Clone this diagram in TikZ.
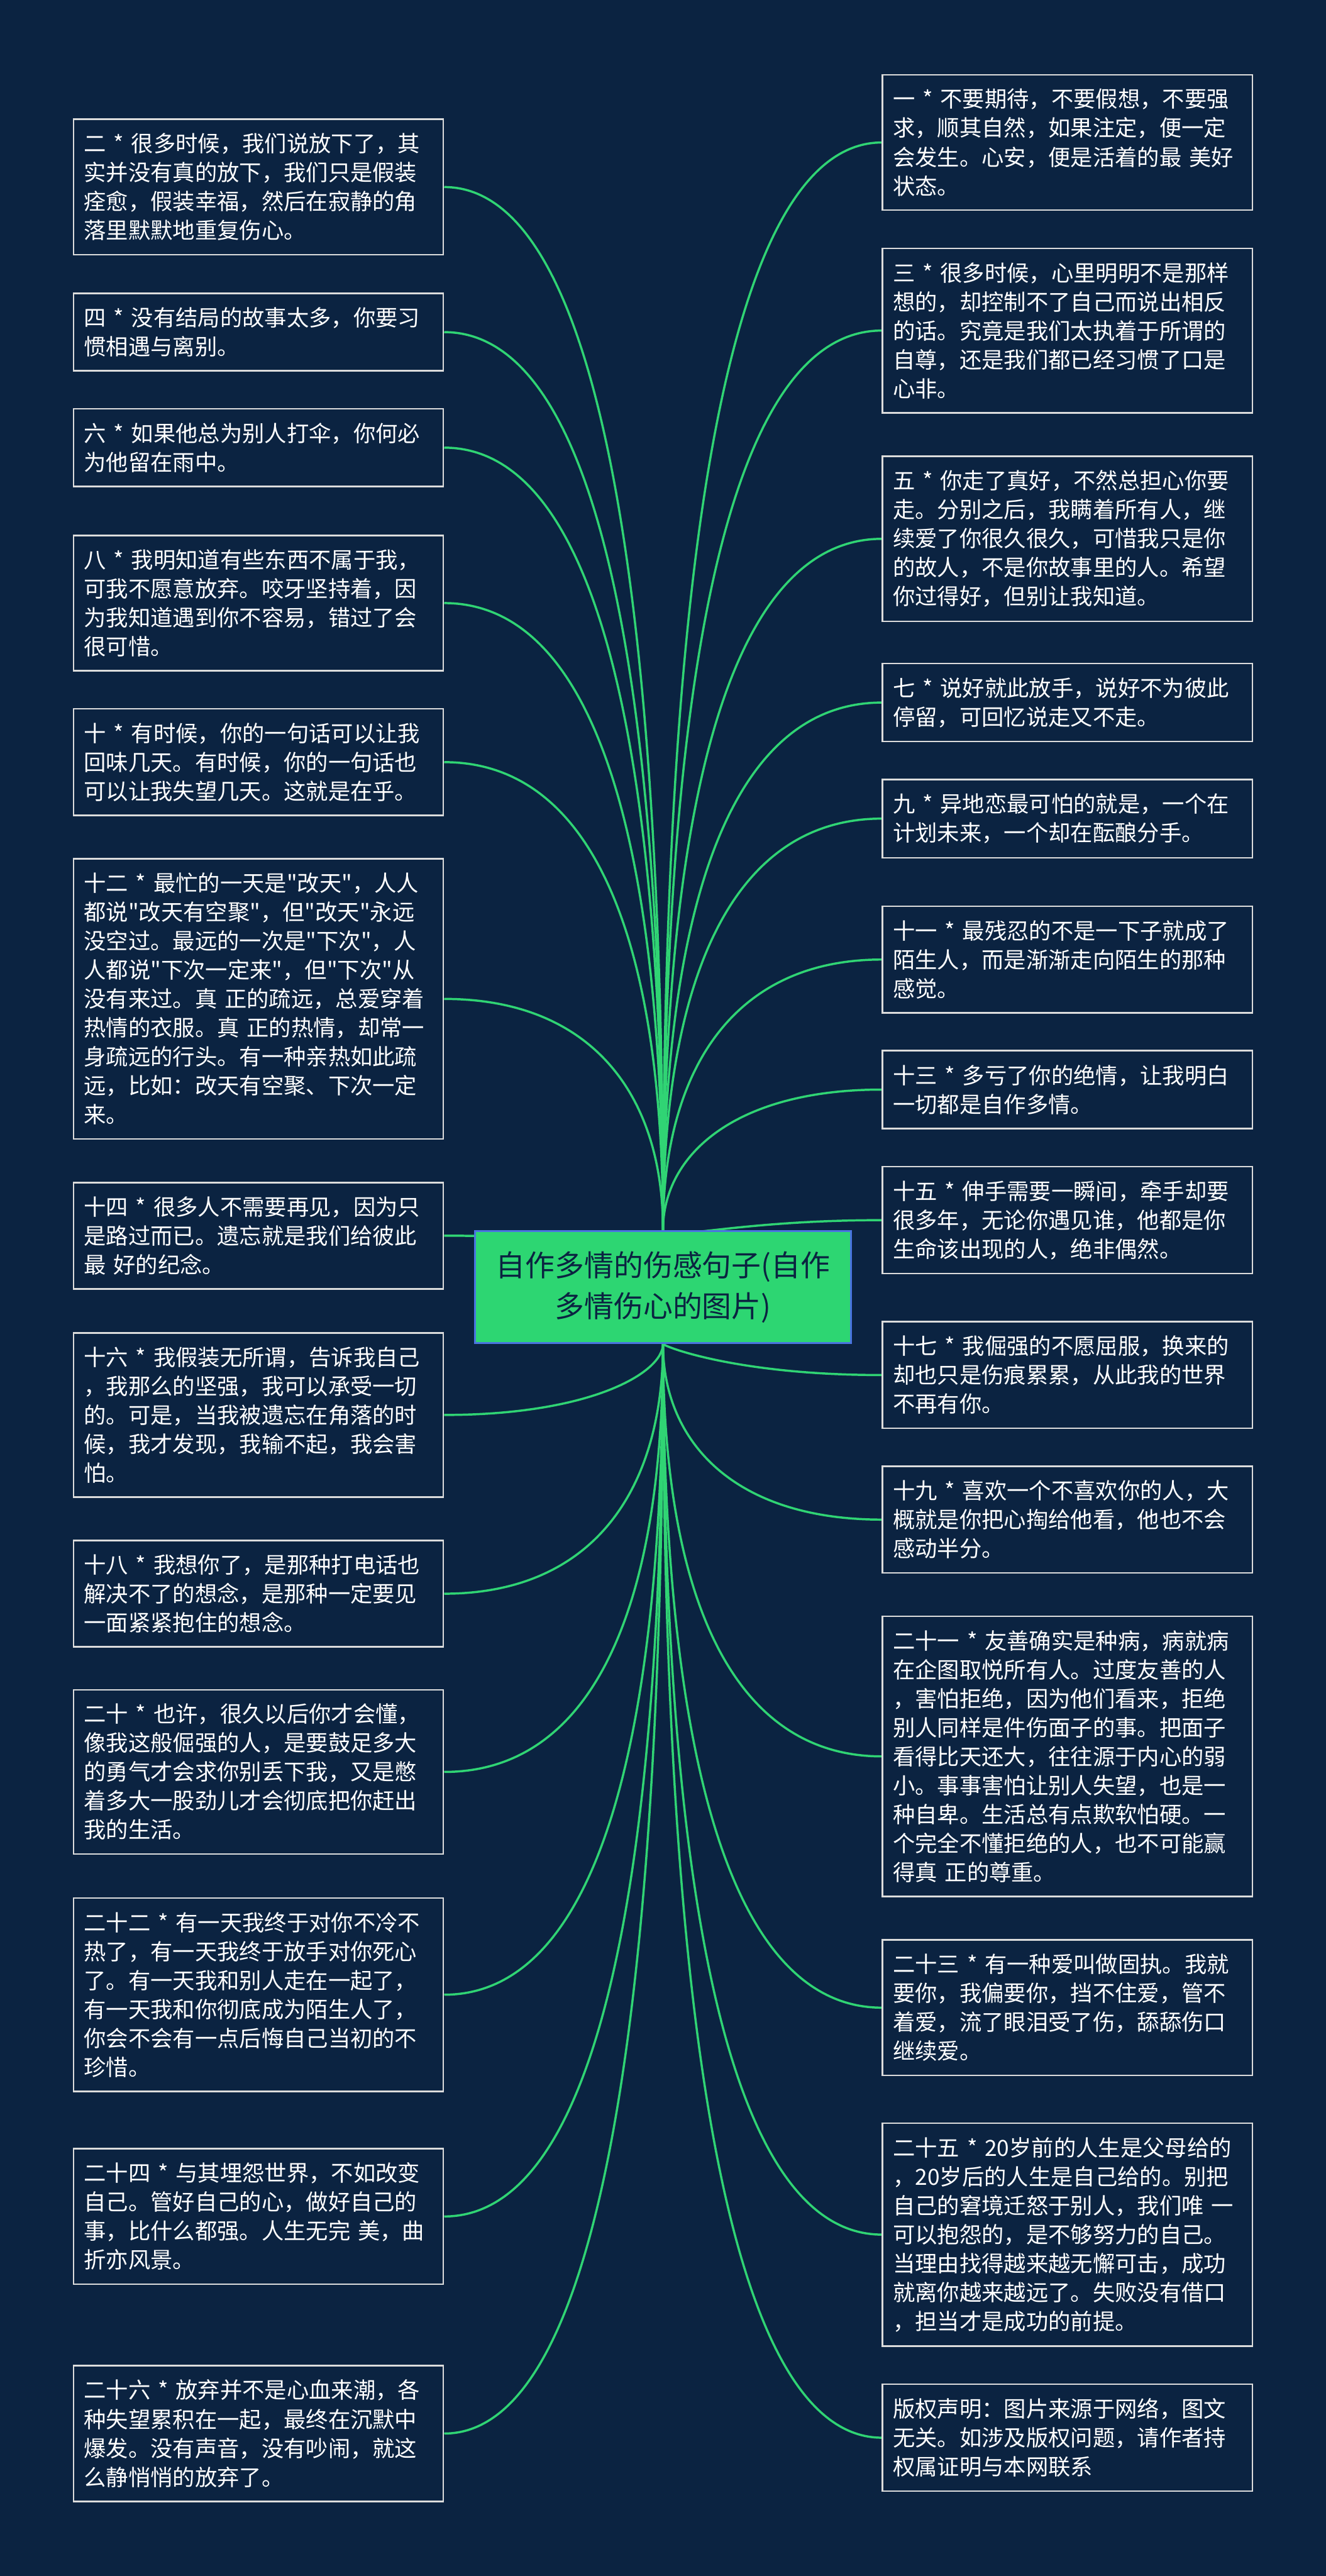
\documentclass[tikz,border=0pt]{standalone}
\usepackage{fontspec}
\setmainfont{Noto Sans CJK SC}[Ligatures=TeXOff]
\usetikzlibrary{calc}
\definecolor{navy}{HTML}{0B2341}
\definecolor{leaf}{HTML}{30D474}
\definecolor{rim}{HTML}{DCDCDC}
\definecolor{rootfill}{HTML}{2DD672}
\definecolor{rootrim}{HTML}{4A74E0}
\pgfdeclarelayer{bg}
\pgfdeclarelayer{edges}
\pgfsetlayers{bg,edges,main}

\begin{document}
\begin{tikzpicture}[box/.style={draw=rim,line width=.9pt,fill=navy,text=white,align=left,text width=6.74cm,inner xsep=.2cm,inner ysep=.27cm,font=\fontsize{12.2}{15.9}\selectfont},root/.style={draw=rootrim,line width=1pt,fill=rootfill,text=navy,align=center,minimum width=7.26cm,minimum height=2.16cm,font=\fontsize{16.2}{22.5}\selectfont},br/.style={draw=leaf,line width=1.2pt,to path={.. controls ($(\tikztostart)!.67!(\tikztostart-|\tikztotarget)$) and ($(\tikztotarget)!.67!(\tikztostart-|\tikztotarget)$) .. (\tikztotarget)}}]
\useasboundingbox (0,0) rectangle (25.6,-49.72);
\begin{pgfonlayer}{bg}\fill[navy] (0,0) rectangle (25.6,-49.72);\end{pgfonlayer}

\node[root] (root) at (12.8,-24.84) {自作多情的伤感句子(自作\\多情伤心的图片)};

% left column
\node[box] (q2) at (4.99,-3.61) {二 * 很多时候，我们说放下了，其\\实并没有真的放下，我们只是假装\\痊愈，假装幸福，然后在寂静的角\\落里默默地重复伤心。};
\node[box] (q4) at (4.99,-6.41) {四 * 没有结局的故事太多，你要习\\惯相遇与离别。};
\node[box] (q6) at (4.99,-8.64) {六 * 如果他总为别人打伞，你何必\\为他留在雨中。};
\node[box] (q8) at (4.99,-11.64) {八 * 我明知道有些东西不属于我，\\可我不愿意放弃。咬牙坚持着，因\\为我知道遇到你不容易，错过了会\\很可惜。};
\node[box] (q10) at (4.99,-14.71) {十 * 有时候，你的一句话可以让我\\回味几天。有时候，你的一句话也\\可以让我失望几天。这就是在乎。};
\node[box] (q12) at (4.99,-19.28) {十二 * 最忙的一天是"改天"，人人\\都说"改天有空聚"，但"改天"永远\\没空过。最远的一次是"下次"，人\\人都说"下次一定来"，但"下次"从\\没有来过。真 正的疏远，总爱穿着\\热情的衣服。真 正的热情，却常一\\身疏远的行头。有一种亲热如此疏\\远，比如：改天有空聚、下次一定\\来。};
\node[box] (q14) at (4.99,-23.85) {十四 * 很多人不需要再见，因为只\\是路过而已。遗忘就是我们给彼此\\最 好的纪念。};
\node[box] (q16) at (4.99,-27.31) {十六 * 我假装无所谓，告诉我自己\\，我那么的坚强，我可以承受一切\\的。可是，当我被遗忘在角落的时\\候，我才发现，我输不起，我会害\\怕。};
\node[box] (q18) at (4.99,-30.76) {十八 * 我想你了，是那种打电话也\\解决不了的想念，是那种一定要见\\一面紧紧抱住的想念。};
\node[box] (q20) at (4.99,-34.20) {二十 * 也许，很久以后你才会懂，\\像我这般倔强的人，是要鼓足多大\\的勇气才会求你别丢下我，又是憋\\着多大一股劲儿才会彻底把你赶出\\我的生活。};
\node[box] (q22) at (4.99,-38.50) {二十二 * 有一天我终于对你不冷不\\热了，有一天我终于放手对你死心\\了。有一天我和别人走在一起了，\\有一天我和你彻底成为陌生人了，\\你会不会有一点后悔自己当初的不\\珍惜。};
\node[box] (q24) at (4.99,-42.78) {二十四 * 与其埋怨世界，不如改变\\自己。管好自己的心，做好自己的\\事，比什么都强。人生无完 美，曲\\折亦风景。};
\node[box] (q26) at (4.99,-46.97) {二十六 * 放弃并不是心血来潮，各\\种失望累积在一起，最终在沉默中\\爆发。没有声音，没有吵闹，就这\\么静悄悄的放弃了。};

% right column
\node[box] (q1) at (20.61,-2.75) {一 * 不要期待，不要假想，不要强\\求，顺其自然，如果注定，便一定\\会发生。心安，便是活着的最 美好\\状态。};
\node[box] (q3) at (20.61,-6.38) {三 * 很多时候，心里明明不是那样\\想的，却控制不了自己而说出相反\\的话。究竟是我们太执着于所谓的\\自尊，还是我们都已经习惯了口是\\心非。};
\node[box] (q5) at (20.61,-10.40) {五 * 你走了真好，不然总担心你要\\走。分别之后，我瞒着所有人，继\\续爱了你很久很久，可惜我只是你\\的故人，不是你故事里的人。希望\\你过得好，但别让我知道。};
\node[box] (q7) at (20.61,-13.56) {七 * 说好就此放手，说好不为彼此\\停留，可回忆说走又不走。};
\node[box] (q9) at (20.61,-15.80) {九 * 异地恋最可怕的就是，一个在\\计划未来，一个却在酝酿分手。};
\node[box] (q11) at (20.61,-18.52) {十一 * 最残忍的不是一下子就成了\\陌生人，而是渐渐走向陌生的那种\\感觉。};
\node[box] (q13) at (20.61,-21.03) {十三 * 多亏了你的绝情，让我明白\\一切都是自作多情。};
\node[box] (q15) at (20.61,-23.55) {十五 * 伸手需要一瞬间，牵手却要\\很多年，无论你遇见谁，他都是你\\生命该出现的人，绝非偶然。};
\node[box] (q17) at (20.61,-26.54) {十七 * 我倔强的不愿屈服，换来的\\却也只是伤痕累累，从此我的世界\\不再有你。};
\node[box] (q19) at (20.61,-29.33) {十九 * 喜欢一个不喜欢你的人，大\\概就是你把心掏给他看，他也不会\\感动半分。};
\node[box] (q21) at (20.61,-33.90) {二十一 * 友善确实是种病，病就病\\在企图取悦所有人。过度友善的人\\，害怕拒绝，因为他们看来，拒绝\\别人同样是件伤面子的事。把面子\\看得比天还大，往往源于内心的弱\\小。事事害怕让别人失望，也是一\\种自卑。生活总有点欺软怕硬。一\\个完全不懂拒绝的人，也不可能赢\\得真 正的尊重。};
\node[box] (q23) at (20.61,-38.75) {二十三 * 有一种爱叫做固执。我就\\要你，我偏要你，挡不住爱，管不\\着爱，流了眼泪受了伤，舔舔伤口\\继续爱。};
\node[box] (q25) at (20.61,-43.13) {二十五 * 20岁前的人生是父母给的\\，20岁后的人生是自己给的。别把\\自己的窘境迁怒于别人，我们唯 一\\可以抱怨的，是不够努力的自己。\\当理由找得越来越无懈可击，成功\\就离你越来越远了。失败没有借口\\，担当才是成功的前提。};
\node[box] (cp) at (20.61,-47.05) {版权声明：图片来源于网络，图文\\无关。如涉及版权问题，请作者持\\权属证明与本网联系};

% branches
\begin{pgfonlayer}{edges}
\foreach \n in {2,4,...,26} \draw[br] (q\n.east) to (root);
\foreach \n in {1,3,...,25} \draw[br] (q\n.west) to (root);
\draw[br] (cp.west) to (root);
\end{pgfonlayer}
\end{tikzpicture}
\end{document}
